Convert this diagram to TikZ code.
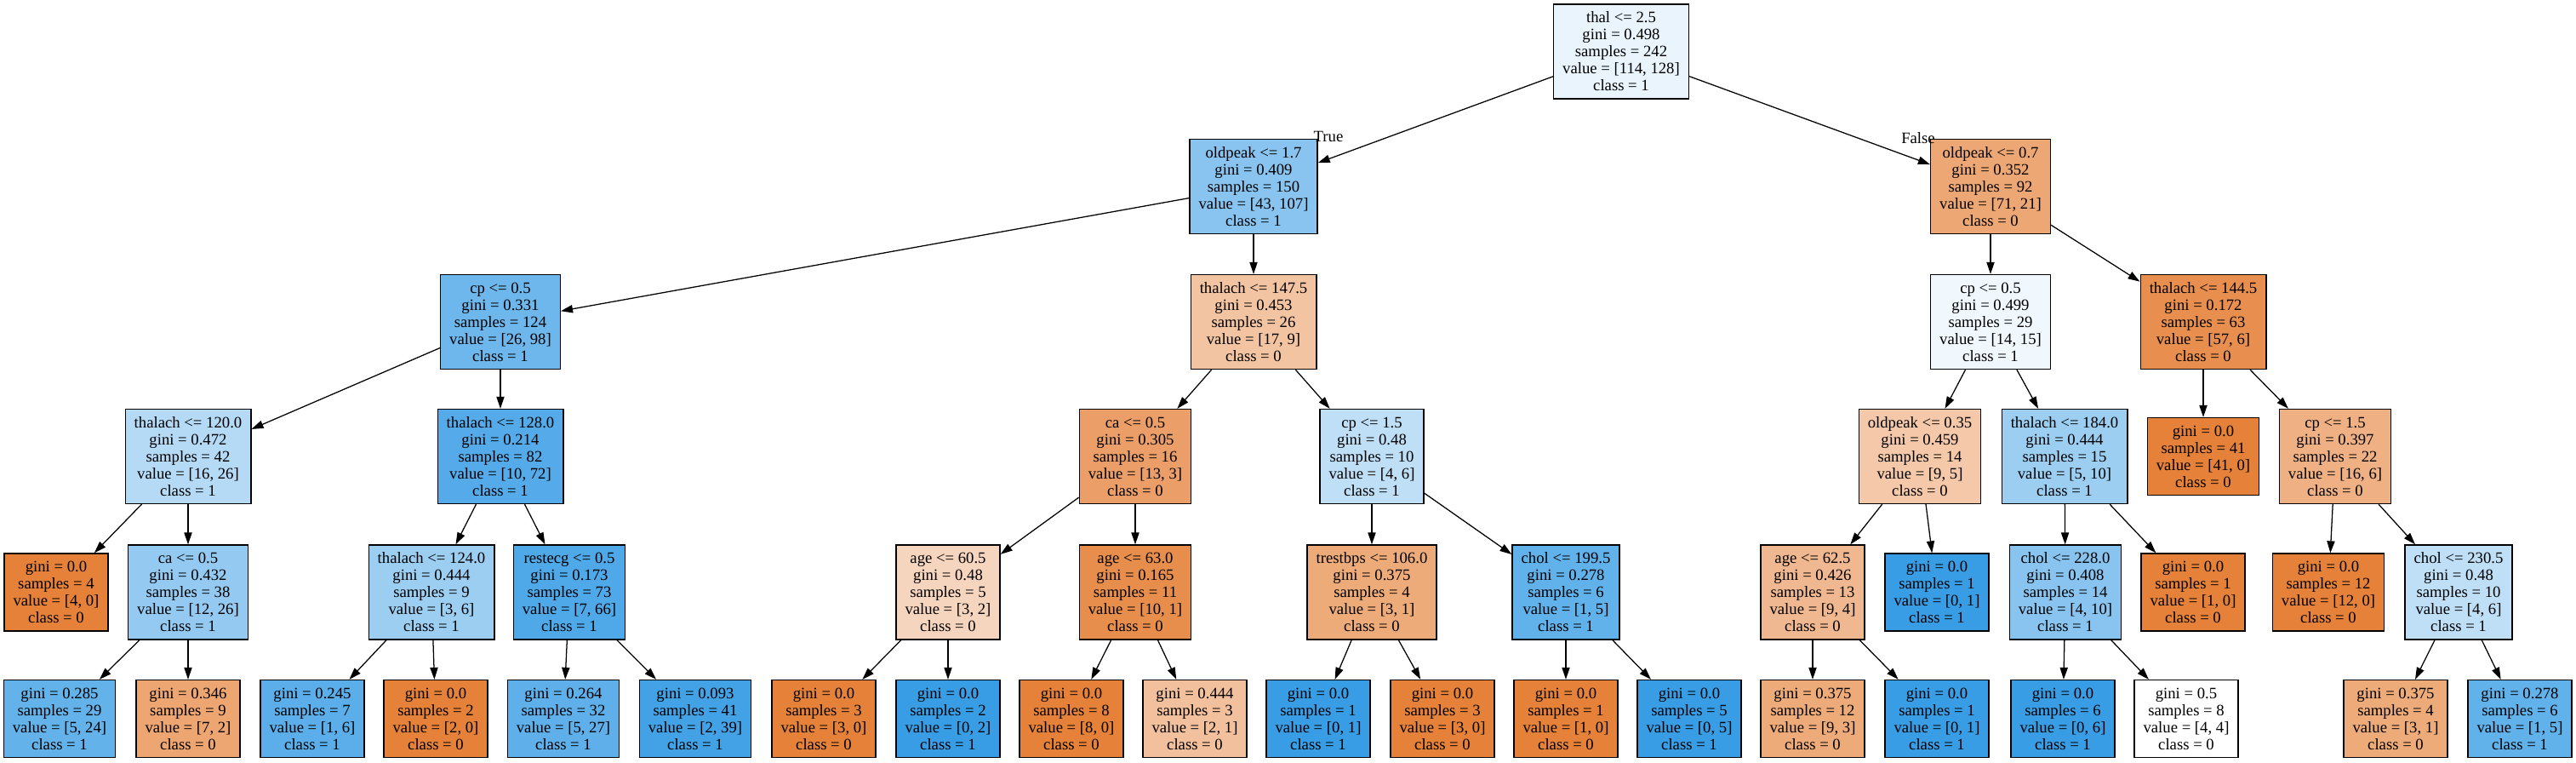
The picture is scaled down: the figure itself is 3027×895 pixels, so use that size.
\documentclass[tikz,border=0pt]{standalone}
\usepackage{fontspec}
\setmainfont{Liberation Serif}
\usetikzlibrary{arrows.meta}
\definecolor{czero}{HTML}{E58139}
\definecolor{cone}{HTML}{399DE5}
\tikzset{
  dnode/.style={draw,rectangle,line width=0.9pt,align=center,minimum height=2.775cm,inner xsep=0.265cm,inner ysep=0pt,font=\fontsize{13.3pt}{14.2pt}\selectfont},
  lnode/.style={dnode,minimum height=2.275cm},
  arr/.style={-{Triangle[length=0.35cm,width=0.23cm]},line width=0.9pt},
  lbl/.style={font=\fontsize{13.3pt}{14.2pt}\selectfont}
}

\begin{document}
\begin{tikzpicture}[x=0.025cm,y=-0.025cm]
  \useasboundingbox (0,0) rectangle (3027,895);

  % depth 0 and 1
  \node[dnode,fill=cone!11] (root) at (1905,60.5) {thal <= 2.5\\gini = 0.498\\samples = 242\\value = [114, 128]\\class = 1};
  \node[dnode,fill=cone!60] (opA) at (1473,219) {oldpeak <= 1.7\\gini = 0.409\\samples = 150\\value = [43, 107]\\class = 1};
  \node[dnode,fill=czero!70] (opB) at (2339,219) {oldpeak <= 0.7\\gini = 0.352\\samples = 92\\value = [71, 21]\\class = 0};

  % depth 2
  \node[dnode,fill=cone!73] (cpA) at (588,378) {cp <= 0.5\\gini = 0.331\\samples = 124\\value = [26, 98]\\class = 1};
  \node[dnode,fill=czero!47] (thA) at (1473,378) {thalach <= 147.5\\gini = 0.453\\samples = 26\\value = [17, 9]\\class = 0};
  \node[dnode,fill=cone!7] (cpB) at (2339,378) {cp <= 0.5\\gini = 0.499\\samples = 29\\value = [14, 15]\\class = 1};
  \node[dnode,fill=czero!89] (thB) at (2589,378) {thalach <= 144.5\\gini = 0.172\\samples = 63\\value = [57, 6]\\class = 0};

  % depth 3
  \node[dnode,fill=cone!38] (thC) at (221,536) {thalach <= 120.0\\gini = 0.472\\samples = 42\\value = [16, 26]\\class = 1};
  \node[dnode,fill=cone!86] (thD) at (588,536) {thalach <= 128.0\\gini = 0.214\\samples = 82\\value = [10, 72]\\class = 1};
  \node[dnode,fill=czero!77] (caA) at (1334,536) {ca <= 0.5\\gini = 0.305\\samples = 16\\value = [13, 3]\\class = 0};
  \node[dnode,fill=cone!33] (cpC) at (1612,536) {cp <= 1.5\\gini = 0.48\\samples = 10\\value = [4, 6]\\class = 1};
  \node[dnode,fill=czero!44] (opC) at (2256,536) {oldpeak <= 0.35\\gini = 0.459\\samples = 14\\value = [9, 5]\\class = 0};
  \node[dnode,fill=cone!50] (thE) at (2426,536) {thalach <= 184.0\\gini = 0.444\\samples = 15\\value = [5, 10]\\class = 1};
  \node[lnode,fill=czero] (lfA) at (2589,536) {gini = 0.0\\samples = 41\\value = [41, 0]\\class = 0};
  \node[dnode,fill=czero!62] (cpD) at (2744,536) {cp <= 1.5\\gini = 0.397\\samples = 22\\value = [16, 6]\\class = 0};

  % depth 4
  \node[lnode,fill=czero] (lfB) at (66,695.5) {gini = 0.0\\samples = 4\\value = [4, 0]\\class = 0};
  \node[dnode,fill=cone!54] (caB) at (221,695.5) {ca <= 0.5\\gini = 0.432\\samples = 38\\value = [12, 26]\\class = 1};
  \node[dnode,fill=cone!50] (thF) at (507,695.5) {thalach <= 124.0\\gini = 0.444\\samples = 9\\value = [3, 6]\\class = 1};
  \node[dnode,fill=cone!89] (reA) at (669,695.5) {restecg <= 0.5\\gini = 0.173\\samples = 73\\value = [7, 66]\\class = 1};
  \node[dnode,fill=czero!33] (agA) at (1114,695.5) {age <= 60.5\\gini = 0.48\\samples = 5\\value = [3, 2]\\class = 0};
  \node[dnode,fill=czero!90] (agB) at (1334,695.5) {age <= 63.0\\gini = 0.165\\samples = 11\\value = [10, 1]\\class = 0};
  \node[dnode,fill=czero!67] (trA) at (1612,695.5) {trestbps <= 106.0\\gini = 0.375\\samples = 4\\value = [3, 1]\\class = 0};
  \node[dnode,fill=cone!80] (chA) at (1840,695.5) {chol <= 199.5\\gini = 0.278\\samples = 6\\value = [1, 5]\\class = 1};
  \node[dnode,fill=czero!56] (agC) at (2130,695.5) {age <= 62.5\\gini = 0.426\\samples = 13\\value = [9, 4]\\class = 0};
  \node[lnode,fill=cone] (lfC) at (2276,695.5) {gini = 0.0\\samples = 1\\value = [0, 1]\\class = 1};
  \node[dnode,fill=cone!60] (chB) at (2427,695.5) {chol <= 228.0\\gini = 0.408\\samples = 14\\value = [4, 10]\\class = 1};
  \node[lnode,fill=czero] (lfD) at (2577,695.5) {gini = 0.0\\samples = 1\\value = [1, 0]\\class = 0};
  \node[lnode,fill=czero] (lfE) at (2736,695.5) {gini = 0.0\\samples = 12\\value = [12, 0]\\class = 0};
  \node[dnode,fill=cone!33] (chC) at (2889,695.5) {chol <= 230.5\\gini = 0.48\\samples = 10\\value = [4, 6]\\class = 1};

  % depth 5
  \node[lnode,fill=cone!79] (e1) at (70,844) {gini = 0.285\\samples = 29\\value = [5, 24]\\class = 1};
  \node[lnode,fill=czero!71] (e2) at (221,844) {gini = 0.346\\samples = 9\\value = [7, 2]\\class = 0};
  \node[lnode,fill=cone!83] (e3) at (367,844) {gini = 0.245\\samples = 7\\value = [1, 6]\\class = 1};
  \node[lnode,fill=czero] (e4) at (512,844) {gini = 0.0\\samples = 2\\value = [2, 0]\\class = 0};
  \node[lnode,fill=cone!81] (e5) at (662,844) {gini = 0.264\\samples = 32\\value = [5, 27]\\class = 1};
  \node[lnode,fill=cone!95] (e6) at (817,844) {gini = 0.093\\samples = 41\\value = [2, 39]\\class = 1};
  \node[lnode,fill=czero] (e7) at (968,844) {gini = 0.0\\samples = 3\\value = [3, 0]\\class = 0};
  \node[lnode,fill=cone] (e8) at (1114,844) {gini = 0.0\\samples = 2\\value = [0, 2]\\class = 1};
  \node[lnode,fill=czero] (e9) at (1259,844) {gini = 0.0\\samples = 8\\value = [8, 0]\\class = 0};
  \node[lnode,fill=czero!50] (e10) at (1404,844) {gini = 0.444\\samples = 3\\value = [2, 1]\\class = 0};
  \node[lnode,fill=cone] (e11) at (1549,844) {gini = 0.0\\samples = 1\\value = [0, 1]\\class = 1};
  \node[lnode,fill=czero] (e12) at (1695,844) {gini = 0.0\\samples = 3\\value = [3, 0]\\class = 0};
  \node[lnode,fill=czero] (e13) at (1840,844) {gini = 0.0\\samples = 1\\value = [1, 0]\\class = 0};
  \node[lnode,fill=cone] (e14) at (1985,844) {gini = 0.0\\samples = 5\\value = [0, 5]\\class = 1};
  \node[lnode,fill=czero!67] (e15) at (2130,844) {gini = 0.375\\samples = 12\\value = [9, 3]\\class = 0};
  \node[lnode,fill=cone] (e16) at (2276,844) {gini = 0.0\\samples = 1\\value = [0, 1]\\class = 1};
  \node[lnode,fill=cone] (e17) at (2424,844) {gini = 0.0\\samples = 6\\value = [0, 6]\\class = 1};
  \node[lnode,fill=white] (e18) at (2569,844) {gini = 0.5\\samples = 8\\value = [4, 4]\\class = 0};
  \node[lnode,fill=czero!67] (e19) at (2815,844) {gini = 0.375\\samples = 4\\value = [3, 1]\\class = 0};
  \node[lnode,fill=cone!80] (e20) at (2961,844) {gini = 0.278\\samples = 6\\value = [1, 5]\\class = 1};

  \node[lbl] (tru) at (1561,160) {True};
  \node[lbl] (fls) at (2254,162) {False};

  % edges
  \draw[arr] (root)--(opA);
  \draw[arr] (root)--(opB);
  \draw[arr] (opA)--(cpA);
  \draw[arr] (opA)--(thA);
  \draw[arr] (opB)--(cpB);
  \draw[arr] (opB)--(thB);
  \draw[arr] (cpA)--(thC);
  \draw[arr] (cpA)--(thD);
  \draw[arr] (thA)--(caA);
  \draw[arr] (thA)--(cpC);
  \draw[arr] (cpB)--(opC);
  \draw[arr] (cpB)--(thE);
  \draw[arr] (thB)--(lfA);
  \draw[arr] (thB)--(cpD);
  \draw[arr] (thC)--(lfB);
  \draw[arr] (thC)--(caB);
  \draw[arr] (thD)--(thF);
  \draw[arr] (thD)--(reA);
  \draw[arr] (caA)--(agA);
  \draw[arr] (caA)--(agB);
  \draw[arr] (cpC)--(trA);
  \draw[arr] (cpC)--(chA);
  \draw[arr] (opC)--(agC);
  \draw[arr] (opC)--(lfC);
  \draw[arr] (thE)--(chB);
  \draw[arr] (thE)--(lfD);
  \draw[arr] (cpD)--(lfE);
  \draw[arr] (cpD)--(chC);
  \draw[arr] (caB)--(e1);
  \draw[arr] (caB)--(e2);
  \draw[arr] (thF)--(e3);
  \draw[arr] (thF)--(e4);
  \draw[arr] (reA)--(e5);
  \draw[arr] (reA)--(e6);
  \draw[arr] (agA)--(e7);
  \draw[arr] (agA)--(e8);
  \draw[arr] (agB)--(e9);
  \draw[arr] (agB)--(e10);
  \draw[arr] (trA)--(e11);
  \draw[arr] (trA)--(e12);
  \draw[arr] (chA)--(e13);
  \draw[arr] (chA)--(e14);
  \draw[arr] (agC)--(e15);
  \draw[arr] (agC)--(e16);
  \draw[arr] (chB)--(e17);
  \draw[arr] (chB)--(e18);
  \draw[arr] (chC)--(e19);
  \draw[arr] (chC)--(e20);
\end{tikzpicture}
\end{document}
